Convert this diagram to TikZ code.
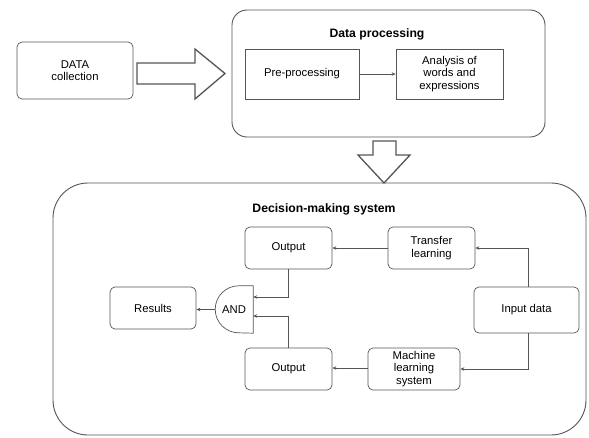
\documentclass[tikz,border=0pt]{standalone}
\usepackage{fontspec}
\setmainfont{Liberation Sans}
\usetikzlibrary{arrows.meta,calc}
\definecolor{ln}{HTML}{555555}
\begin{document}
\begin{tikzpicture}[x=1pt,y=-1pt,
  box/.style={draw=ln,line width=0.7pt,rounded corners=5pt,align=center,font=\fontsize{11.3}{12.5}\selectfont,inner sep=1pt},
  sbox/.style={draw=ln,line width=0.7pt,align=center,font=\fontsize{11.3}{12.5}\selectfont,inner sep=1pt},
  cont/.style={draw=ln,line width=0.9pt},
  ttl/.style={font=\fontsize{12.2}{14}\selectfont\bfseries},
  conn/.style={draw=ln,line width=0.7pt,-{Stealth[length=4pt,width=3.5pt]}},
  hollow/.style={draw=ln,line width=1.3pt,fill=white,line join=miter}]
\useasboundingbox (0,0) rectangle (589,437);
% containers
\node[cont,rounded corners=15pt,minimum width=313pt,minimum height=127pt] (dp) at (388.5,73.5) {};
\node[cont,rounded corners=35pt,minimum width=533pt,minimum height=252pt] (dm) at (319.5,309) {};
\node[ttl] (dpt) at (377,34) {Data processing};
\node[ttl] (dmt) at (324,209) {Decision-making system};
% top row
\node[box,minimum width=116pt,minimum height=57pt] (data) at (75,70.5) {DATA\\collection};
\node[sbox,minimum width=114pt,minimum height=50pt] (pre) at (302,74) {Pre-processing};
\node[sbox,minimum width=107pt,minimum height=50pt] (ana) at (449.5,74) {Analysis of\\words and\\expressions};
\draw[conn] (pre) -- (ana);
% hollow arrows
\draw[hollow] (137,63) -- (195,63) -- (195,49) -- (225,73.5) -- (195,99) -- (195,84) -- (137,84) -- cycle;
\draw[hollow] (373,141) -- (396,141) -- (396,155) -- (410,155) -- (384,183) -- (358,155) -- (373,155) -- cycle;
% decision system
\node[box,minimum width=87pt,minimum height=42pt] (out1) at (288.5,248) {Output};
\node[box,minimum width=87pt,minimum height=42pt] (out2) at (288.5,369) {Output};
\node[box,minimum width=86pt,minimum height=42pt] (res) at (153,308) {Results};
\node[box,minimum width=87pt,minimum height=42pt] (tl) at (431.5,248) {Transfer\\learning};
\node[box,minimum width=105pt,minimum height=46pt] (inp) at (526.5,310) {Input data};
\node[box,minimum width=92pt,minimum height=42pt] (ml) at (414,369) {Machine\\learning\\system};
\node[minimum width=38pt,minimum height=47pt,inner sep=0pt,font=\fontsize{11.3}{12.5}\selectfont] (and) at (234,309.5) {AND};
\draw[draw=ln,line width=0.7pt] (and.north east) -- ++(-14.5,0) arc[start angle=90,end angle=270,radius=23.5pt] -- (and.south east) -- cycle;
% connectors
\draw[conn] (inp.north -| 528,0) |- (tl.east);
\draw[conn] (inp.south -| 528,0) |- (ml.east);
\draw[conn] (tl) -- (out1);
\draw[conn] (ml.west |- 0,368) -- (out2.east |- 0,368);
\draw[conn] (out1.south) |- (and.east |- 0,297);
\draw[conn] (out2.north) |- (and.east |- 0,316);
\draw[conn] (and.west) -- (res.east |- and.west);
\end{tikzpicture}
\end{document}
